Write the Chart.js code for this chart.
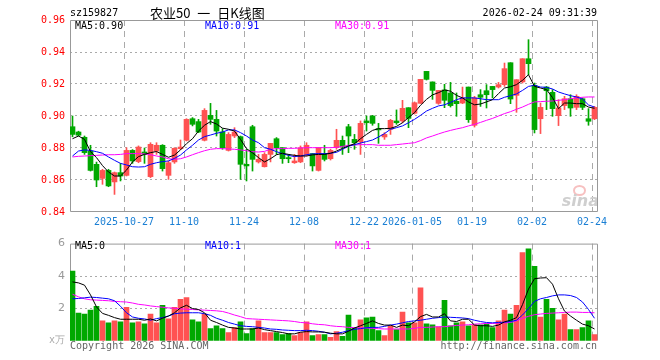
<!DOCTYPE html>
<html><head><meta charset="utf-8">
<script src="https://cdn.jsdelivr.net/npm/chart.js@4/dist/chart.umd.min.js"></script>
<style>
html,body{margin:0;padding:0;background:#fff;}
#wrap{position:relative;width:660px;height:360px;overflow:hidden;background:#fff;}
canvas{position:absolute;left:0;}
.t{position:absolute;white-space:pre;font-family:"DejaVu Sans Mono",monospace;font-size:10px;line-height:12px;color:#000;}
</style></head><body>
<div id="wrap">
<canvas id="k" width="660" height="232" style="top:0px"></canvas>
<canvas id="v" width="660" height="128" style="top:232px"></canvas>
<div class="t" style="left:70px;top:7px;">sz159827</div>
<div class="t" style="left:150px;top:4px;font-family:'Noto Sans CJK SC',sans-serif;font-size:13px;line-height:17px;word-spacing:4px;">农业50 一 日K线图</div>
<div class="t" style="right:63px;top:7px;">2026-02-24 09:31:39</div>
<div class="t" style="left:75px;top:20px;color:#000;">MA5:0.90</div>
<div class="t" style="left:205px;top:20px;color:#0000ff;">MA10:0.91</div>
<div class="t" style="left:335px;top:20px;color:#ff00ff;">MA30:0.91</div>
<div style="position:absolute;left:573px;top:185px;width:9px;height:7px;border:2px solid #f7c0c0;border-radius:50%;"></div>
<div style="position:absolute;left:560px;top:192px;width:37px;height:19px;overflow:hidden;"><div style="position:absolute;right:-2px;top:0;font:italic bold 16px 'DejaVu Sans',sans-serif;color:#cfcfcf;line-height:18px;">sina</div></div>
<div class="t" style="left:75px;top:240px;color:#000;">MA5:0</div>
<div class="t" style="left:205px;top:240px;color:#0000ff;">MA10:1</div>
<div class="t" style="left:335px;top:240px;color:#ff00ff;">MA30:1</div>
<div class="t" style="right:595px;top:334px;color:#aaa;">x万</div>
<div class="t" style="left:70px;top:340px;color:#666;">Copyright 2026 SINA.COM</div>
<div class="t" style="right:63px;top:340px;color:#666;">http://finance.sina.com.cn</div>
</div>
<script>
const dates = [
'2025-10-14','2025-10-15','2025-10-16','2025-10-17','2025-10-20','2025-10-21','2025-10-22','2025-10-23','2025-10-24',
'2025-10-27','2025-10-28','2025-10-29','2025-10-30','2025-10-31',
'2025-11-03','2025-11-04','2025-11-05','2025-11-06','2025-11-07',
'2025-11-10','2025-11-11','2025-11-12','2025-11-13','2025-11-14',
'2025-11-17','2025-11-18','2025-11-19','2025-11-20','2025-11-21',
'2025-11-24','2025-11-25','2025-11-26','2025-11-27','2025-11-28',
'2025-12-01','2025-12-02','2025-12-03','2025-12-04','2025-12-05',
'2025-12-08','2025-12-09','2025-12-10','2025-12-11','2025-12-12',
'2025-12-15','2025-12-16','2025-12-17','2025-12-18','2025-12-19',
'2025-12-22','2025-12-23','2025-12-24','2025-12-25','2025-12-26',
'2025-12-29','2025-12-30','2025-12-31',
'2026-01-05','2026-01-06','2026-01-07','2026-01-08','2026-01-09',
'2026-01-12','2026-01-13','2026-01-14','2026-01-15','2026-01-16',
'2026-01-19','2026-01-20','2026-01-21','2026-01-22','2026-01-23',
'2026-01-26','2026-01-27','2026-01-28','2026-01-29','2026-01-30',
'2026-02-02','2026-02-03','2026-02-04','2026-02-05','2026-02-06',
'2026-02-09','2026-02-10','2026-02-11','2026-02-12','2026-02-13',
'2026-02-24'];

const open = [0.8933,0.8900,0.8867,0.8781,0.8698,0.8610,0.8660,0.8588,0.8646,0.8629,
0.8785,0.8715,0.8775,0.8621,0.8781,0.8817,0.8629,0.8713,0.8796,0.8848,
0.8983,0.8965,0.8848,0.9004,0.8979,0.8900,0.8785,0.8875,0.8871,0.8698,
0.8933,0.8713,0.8683,0.8760,0.8858,0.8802,0.8740,0.8708,0.8713,0.8760,
0.8765,0.8660,0.8760,0.8733,0.8802,0.8848,0.8933,0.8854,0.8838,0.8969,
0.9000,0.8921,0.8869,0.8917,0.8969,0.8969,0.9052,0.9017,0.9079,0.9279,
0.9213,0.9079,0.9163,0.9144,0.9092,0.9081,0.9181,0.8942,0.9133,0.9158,
0.9185,0.9181,0.9196,0.9333,0.9129,0.9213,0.9358,0.9192,0.8983,0.9181,
0.9148,0.9002,0.9065,0.9108,0.9054,0.9108,0.8983,0.8983];
const high = [0.9000,0.8905,0.8875,0.8817,0.8712,0.8667,0.8667,0.8650,0.8704,0.8802,
0.8790,0.8813,0.8800,0.8833,0.8833,0.8821,0.8719,0.8802,0.8850,0.8983,
0.8990,0.8979,0.9046,0.9079,0.9035,0.8921,0.8896,0.8927,0.8875,0.8792,
0.8942,0.8760,0.8771,0.8829,0.8865,0.8802,0.8760,0.8760,0.8813,0.8833,
0.8765,0.8802,0.8817,0.8792,0.8917,0.8875,0.8948,0.8885,0.8969,0.9000,
0.9004,0.8954,0.8896,0.8979,0.9038,0.9098,0.9052,0.9088,0.9229,0.9279,
0.9213,0.9160,0.9198,0.9210,0.9144,0.9181,0.9181,0.9123,0.9165,0.9196,
0.9185,0.9210,0.9331,0.9333,0.9227,0.9358,0.9477,0.9206,0.9081,0.9185,
0.9165,0.9102,0.9123,0.9133,0.9133,0.9113,0.9046,0.9060];
const low = [0.8870,0.8875,0.8760,0.8656,0.8558,0.8573,0.8558,0.8510,0.8594,0.8625,
0.8704,0.8708,0.8704,0.8615,0.8760,0.8656,0.8604,0.8704,0.8790,0.8844,
0.8938,0.8896,0.8844,0.8948,0.8875,0.8792,0.8781,0.8865,0.8604,0.8594,
0.8656,0.8706,0.8681,0.8713,0.8760,0.8704,0.8708,0.8704,0.8708,0.8750,
0.8656,0.8656,0.8719,0.8725,0.8792,0.8760,0.8771,0.8792,0.8760,0.8906,
0.8942,0.8829,0.8854,0.8885,0.8948,0.8958,0.8927,0.9012,0.9079,0.9225,
0.9104,0.9073,0.9052,0.9056,0.8998,0.9077,0.8960,0.8931,0.9060,0.9050,
0.9113,0.9175,0.9185,0.9077,0.9023,0.9206,0.9258,0.8894,0.8890,0.9040,
0.8998,0.8940,0.9040,0.8998,0.9040,0.9040,0.8942,0.8977];
const close = [0.8885,0.8880,0.8771,0.8660,0.8600,0.8660,0.8563,0.8646,0.8625,0.8785,
0.8719,0.8806,0.8760,0.8823,0.8817,0.8671,0.8708,0.8798,0.8806,0.8979,
0.8948,0.8900,0.9035,0.8979,0.8906,0.8802,0.8885,0.8900,0.8698,0.8688,
0.8729,0.8729,0.8760,0.8829,0.8802,0.8733,0.8733,0.8719,0.8802,0.8817,
0.8688,0.8802,0.8729,0.8785,0.8848,0.8808,0.8875,0.8833,0.8954,0.8958,
0.8954,0.8913,0.8885,0.8973,0.8958,0.9048,0.8985,0.9083,0.9229,0.9229,
0.9160,0.9160,0.9098,0.9065,0.9077,0.9113,0.8977,0.9113,0.9117,0.9133,
0.9165,0.9196,0.9296,0.9106,0.9227,0.9358,0.9327,0.8915,0.9054,0.9158,
0.9046,0.9050,0.9108,0.9050,0.9123,0.9054,0.8967,0.9054];

const ma5 = [0.8858,0.8875,0.8854,0.8777,0.8740,0.8690,0.8650,0.8625,0.8625,0.8662,
0.8713,0.8746,0.8760,0.8771,0.8778,0.8760,0.8742,0.8756,0.8788,0.8827,
0.8858,0.8906,0.8942,0.8965,0.8950,0.8924,0.8917,0.8906,0.8854,0.8796,
0.8770,0.8740,0.8713,0.8733,0.8758,0.8767,0.8760,0.8754,0.8750,0.8750,
0.8757,0.8760,0.8760,0.8767,0.8781,0.8798,0.8813,0.8827,0.8858,0.8885,
0.8910,0.8921,0.8921,0.8923,0.8935,0.8958,0.8990,0.9021,0.9067,0.9104,
0.9132,0.9146,0.9163,0.9155,0.9129,0.9113,0.9088,0.9070,0.9075,0.9088,
0.9102,0.9140,0.9175,0.9183,0.9196,0.9223,0.9258,0.9185,0.9175,0.9165,
0.9115,0.9046,0.9081,0.9081,0.9077,0.9077,0.9056,0.9048];
const ma10 = [0.8750,0.8781,0.8788,0.8785,0.8777,0.8767,0.8744,0.8723,0.8704,0.8694,
0.8683,0.8681,0.8683,0.8698,0.8708,0.8715,0.8719,0.8735,0.8756,0.8788,
0.8817,0.8850,0.8871,0.8881,0.8892,0.8900,0.8913,0.8913,0.8896,0.8875,
0.8850,0.8833,0.8802,0.8792,0.8777,0.8765,0.8754,0.8746,0.8750,0.8758,
0.8763,0.8765,0.8765,0.8767,0.8773,0.8792,0.8811,0.8821,0.8831,0.8840,
0.8850,0.8869,0.8890,0.8917,0.8927,0.8938,0.8958,0.8979,0.9004,0.9031,
0.9048,0.9063,0.9070,0.9085,0.9102,0.9113,0.9113,0.9113,0.9108,0.9102,
0.9102,0.9102,0.9117,0.9127,0.9138,0.9160,0.9185,0.9192,0.9181,0.9179,
0.9169,0.9150,0.9138,0.9127,0.9119,0.9106,0.9069,0.9056];
const ma30 = [0.8744,0.8748,0.8750,0.8752,0.8754,0.8756,0.8758,0.8758,0.8760,0.8765,
0.8765,0.8765,0.8763,0.8758,0.8750,0.8744,0.8733,0.8729,0.8733,0.8744,
0.8758,0.8771,0.8783,0.8792,0.8796,0.8796,0.8794,0.8792,0.8788,0.8783,
0.8777,0.8775,0.8779,0.8792,0.8796,0.8796,0.8798,0.8798,0.8800,0.8802,
0.8802,0.8802,0.8802,0.8802,0.8804,0.8810,0.8817,0.8819,0.8821,0.8821,
0.8821,0.8817,0.8817,0.8817,0.8821,0.8825,0.8829,0.8833,0.8846,0.8863,
0.8875,0.8888,0.8900,0.8910,0.8919,0.8927,0.8938,0.8948,0.8960,0.8973,
0.8985,0.9000,0.9015,0.9027,0.9042,0.9056,0.9073,0.9088,0.9090,0.9092,
0.9094,0.9098,0.9102,0.9108,0.9113,0.9117,0.9119,0.9119];

const volume = [4.30,1.72,1.66,1.90,2.14,1.24,1.12,1.24,1.18,2.08,
1.12,1.18,1.06,1.66,1.12,2.20,1.36,2.08,2.56,2.68,
1.30,1.18,1.66,0.76,0.94,0.76,0.52,0.82,1.18,0.46,
0.76,1.24,0.52,0.52,0.52,0.40,0.46,0.34,0.52,1.18,
0.34,0.40,0.40,0.22,0.58,0.28,1.60,0.82,1.30,1.42,
1.48,0.64,0.34,0.94,0.70,1.78,1.12,1.12,3.28,1.06,
1.00,0.88,2.50,0.94,1.12,1.18,0.94,1.00,1.00,1.06,
0.82,1.24,1.90,1.66,2.20,5.44,5.68,4.60,1.48,2.56,
2.02,1.30,1.66,0.70,0.70,0.82,1.24,0.40];
const vma5 = [3.64,3.58,3.44,2.84,2.10,1.70,1.58,1.44,1.34,1.34,
1.34,1.34,1.28,1.36,1.24,1.40,1.54,1.74,2.04,2.20,
2.00,1.94,1.74,1.28,1.14,0.98,0.84,0.80,0.74,0.74,
0.74,0.80,0.70,0.64,0.58,0.52,0.44,0.44,0.54,0.58,
0.56,0.56,0.54,0.48,0.44,0.44,0.60,0.80,0.94,1.08,
1.24,1.08,0.98,0.98,0.84,0.98,0.94,1.18,1.50,1.64,
1.48,1.48,1.68,1.24,1.20,1.34,1.34,0.98,0.94,0.94,
0.90,0.98,1.18,1.28,1.44,2.24,3.20,3.84,3.88,3.90,
3.50,2.60,1.84,1.54,1.28,1.04,0.94,0.74];
const vma10 = [2.60,2.62,2.66,2.70,2.68,2.64,2.60,2.48,2.14,1.74,
1.48,1.40,1.36,1.28,1.38,1.44,1.54,1.68,1.72,1.74,
1.74,1.74,1.68,1.58,1.40,1.28,1.14,1.04,0.94,0.90,
0.88,0.84,0.80,0.74,0.72,0.68,0.66,0.64,0.64,0.66,
0.64,0.60,0.54,0.44,0.48,0.54,0.64,0.72,0.76,0.82,
0.84,0.84,0.90,0.98,1.04,1.12,1.20,1.24,1.28,1.34,
1.40,1.44,1.48,1.46,1.44,1.42,1.38,1.28,1.20,1.14,
1.12,1.14,1.16,1.20,1.28,1.60,2.00,2.44,2.60,2.68,
2.78,2.84,2.84,2.80,2.68,2.40,1.94,1.40];
const vma30 = [2.88,2.72,2.60,2.54,2.52,2.50,2.48,2.44,2.42,2.40,
2.34,2.26,2.22,2.16,2.12,2.08,2.04,2.02,1.98,1.96,
1.94,1.92,1.90,1.88,1.86,1.82,1.72,1.60,1.50,1.38,
1.36,1.34,1.32,1.30,1.28,1.26,1.24,1.20,1.14,1.12,
1.06,1.02,1.00,0.94,0.90,0.88,0.84,0.82,0.80,0.80,
0.78,0.76,0.74,0.74,0.74,0.74,0.74,0.78,0.84,0.84,
0.86,0.88,0.88,0.92,0.96,0.98,1.00,1.04,1.06,1.08,
1.08,1.10,1.12,1.14,1.24,1.40,1.52,1.62,1.66,1.70,
1.72,1.74,1.76,1.78,1.78,1.76,1.76,1.74];

const tickDates  = ['2025-10-27','2025-11-10','2025-11-24','2025-12-08','2025-12-22','2026-01-05','2026-01-19','2026-02-02','2026-02-24'];
const tickLabels = ['2025-10-27','11-10','11-24','12-08','12-22','2026-01-05','01-19','02-02','02-24'];
const priceTicks = [0.84,0.86,0.88,0.90,0.92,0.94,0.96];
const volTicks = [0,2,4,6];

const N = dates.length;
const CENTER = 2.5/6;
const UP = '#ff5252', DN = '#00a800', GRID = '#aaaaaa', FRAME = '#999999';
const colors = close.map((c,i)=> c >= open[i] ? UP : DN);
const tickIdx = tickDates.map(d => dates.indexOf(d));
const pts = arr => arr.map((v,i)=>({x:i+CENTER, y:v}));
const mono = {family:'DejaVu Sans Mono', size:10};

const frame = {
  id:'frame',
  beforeDatasetsDraw(chart, args, opts){
    const a = chart.chartArea, g = chart.ctx;
    g.save(); g.strokeStyle = FRAME; g.lineWidth = 1; g.beginPath();
    const L=a.left+0.5, T=a.top+0.5, R=a.right-0.5, B=a.bottom-0.5;
    g.moveTo(L,B); g.lineTo(L,T); g.lineTo(R,T); g.lineTo(R,B);
    if (opts.bottom){ g.lineTo(L,B); }
    g.stroke(); g.restore();
  }
};

function lineDs(data, color){
  return {type:'line', data:pts(data), borderColor:color, borderWidth:1, pointRadius:0, tension:0, order:0, fill:false};
}
function xScale(showTicks){
  return {type:'linear', min:0, max:N, offset:false,
    afterFit: s => { s.height = showTicks ? 20 : 0; },
    afterBuildTicks: s => { s.ticks = tickIdx.map(v=>({value:v})); },
    ticks:{display:showTicks, autoSkip:false, maxRotation:0, padding:4, color:'#1a7fd4', font:mono,
      callback:(v,i)=>tickLabels[i]},
    grid:{color:GRID, offset:false, drawTicks:false, lineWidth:1},
    border:{display:false, dash:[6,5]}};
}

new Chart(document.getElementById('k'), {
  type:'bar',
  data:{datasets:[
    lineDs(ma5,'#000000'), lineDs(ma10,'#0000ff'), lineDs(ma30,'#ff00ff'),
    {type:'bar', data: open.map((o,i)=>({x:i+CENTER, y:[o, close[i]]})), backgroundColor:colors,
      barThickness:5, grouped:false, minBarLength:1, borderWidth:0, order:1},
    {type:'bar', data: low.map((l,i)=>({x:i+CENTER, y:[l, high[i]]})), backgroundColor:colors,
      barThickness:1, grouped:false, borderWidth:0, order:2}
  ]},
  options:{
    responsive:false, animation:false, devicePixelRatio:1,
    layout:{padding:{left:0,right:62,top:20,bottom:0}},
    plugins:{legend:{display:false}, tooltip:{enabled:false}, frame:{bottom:true}},
    scales:{
      x: xScale(true),
      y: {type:'linear', min:0.84, max:0.96,
        afterFit: s => { s.width = 70; },
        afterBuildTicks: s => { s.ticks = priceTicks.map(v=>({value:v})); },
        ticks:{padding:5, color:'#ff0000', font:mono, callback:v=>Number(v).toFixed(2)},
        grid:{drawTicks:false, color: c => (c.tick && (c.index===0 || c.index===priceTicks.length-1)) ? 'rgba(0,0,0,0)' : GRID},
        border:{display:false, dash:[2,3]}}
    }
  },
  plugins:[frame]
});

new Chart(document.getElementById('v'), {
  type:'bar',
  data:{datasets:[
    lineDs(vma5,'#000000'), lineDs(vma10,'#0000ff'), lineDs(vma30,'#ff00ff'),
    {type:'bar', data: volume.map((v,i)=>({x:i+CENTER, y:v})), backgroundColor:colors,
      barThickness:5, grouped:false, borderWidth:0, order:1}
  ]},
  options:{
    responsive:false, animation:false, devicePixelRatio:1,
    layout:{padding:{left:0,right:62,top:9,bottom:19}},
    plugins:{legend:{display:false}, tooltip:{enabled:false}, frame:{bottom:false}},
    scales:{
      x: xScale(false),
      y: {type:'linear', min:0, max:6,
        afterFit: s => { s.width = 70; },
        afterBuildTicks: s => { s.ticks = volTicks.map(v=>({value:v})); },
        ticks:{padding:5, color:'#999999', font:{family:'DejaVu Sans', size:11}, callback:v=> v===0 ? '' : String(v)},
        grid:{drawTicks:false, color: c => (c.tick && (c.index===0 || c.index===volTicks.length-1)) ? 'rgba(0,0,0,0)' : GRID},
        border:{display:false, dash:[2,3]}}
    }
  },
  plugins:[frame]
});
</script>
</body></html>
